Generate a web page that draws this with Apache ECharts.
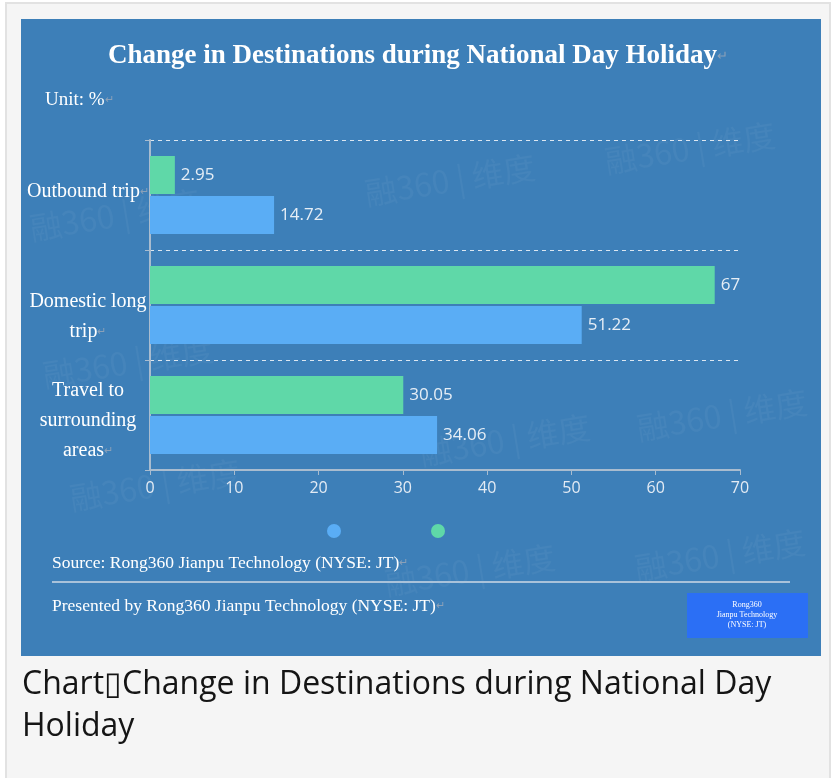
<!DOCTYPE html>
<html>
<head>
<meta charset="utf-8">
<script src="https://cdn.jsdelivr.net/npm/echarts@6/dist/echarts.min.js"></script>
<style>
html,body{margin:0;padding:0;background:#fff;}
#c{width:836px;height:778px;}
</style>
</head>
<body>
<div id="c"></div>
<script>
// ---- data ----
var categories = ['Travel to\nsurrounding\nareas', 'Domestic long\ntrip', 'Outbound trip'];
var blueValues = [34.06, 51.22, 14.72];
var greenValues = [30.05, 67, 2.95];
var xTicks = [0, 10, 20, 30, 40, 50, 60, 70];
var titleText = 'Change in Destinations during National Day Holiday';
var unitText = 'Unit: %';
var sourceText = 'Source: Rong360 Jianpu Technology (NYSE: JT)';
var presentedText = 'Presented by Rong360 Jianpu Technology (NYSE: JT)';
var logoText = 'Rong360\nJianpu Technology\n(NYSE: JT)';
var captionText = 'Chart\u25AFChange in Destinations during National Day\nHoliday';
var watermark = '融360 | 维度';

var SERIF = '"Liberation Serif","Times New Roman",serif';
var SANS = '"Open Sans","Noto Sans",sans-serif';
var MARK = '#8aa0b8';
var RET = '\u21B5';

var chart = echarts.init(document.getElementById('c'), null, {renderer: 'canvas'});

var wmPos = [[690,148],[115,215],[450,180],[128,362],[722,415],[505,440],[155,485],[720,555],[470,570]];
var wmGraphics = wmPos.map(function (p) {
  return {
    type: 'text', x: p[0], y: p[1], rotation: 0.16, z: -50,
    style: {text: watermark, fill: 'rgba(255,255,255,0.045)', font: '32px "Noto Sans CJK SC"', textAlign: 'center', textVerticalAlign: 'middle'}
  };
});

function markedText(x, y, txt, font, markSize) {
  return {type: 'text', x: x, y: y, z: 10,
    style: {text: '{t|' + txt + '}{m|' + RET + '}', textVerticalAlign: 'middle', textAlign: 'left',
      rich: {t: {fill: '#ffffff', font: font}, m: {fill: MARK, fontSize: markSize, fontFamily: SANS}}}};
}

// vertical nudges of the axis labels (spacer line: 'top' or 'bottom' + rich style key)
var labelNudge = [['top', 'h12'], ['top', 'h24'], ['bottom', 'h6']];

var option = {
  backgroundColor: '#ffffff',
  animation: false,
  graphic: [
    {type: 'rect', z: -100, shape: {x: 6, y: 3, width: 824, height: 780}, style: {fill: '#f5f5f5', stroke: '#e2e2e2', lineWidth: 2}},
    {type: 'rect', z: -90, shape: {x: 21, y: 19, width: 800, height: 637}, style: {fill: '#3d7fb8'}}
  ].concat(wmGraphics).concat([
    {type: 'text', x: 418, y: 56, z: 10,
      style: {text: '{t|' + titleText + '}{m|' + RET + '}', textAlign: 'center', textVerticalAlign: 'middle',
        rich: {t: {fill: '#ffffff', font: 'bold 27px ' + SERIF}, m: {fill: MARK, fontSize: 13, fontFamily: SANS}}}},
    markedText(45, 100, unitText, '19px ' + SERIF, 11),
    markedText(52, 563, sourceText, '17.5px ' + SERIF, 11),
    {type: 'line', z: 10, shape: {x1: 52, y1: 582, x2: 790, y2: 582}, style: {stroke: '#a9c2da', lineWidth: 2}},
    markedText(52, 606, presentedText, '17.5px ' + SERIF, 11),
    {type: 'rect', z: 10, shape: {x: 687, y: 593, width: 121, height: 45}, style: {fill: '#2b6ff5'}},
    {type: 'text', x: 747, y: 615, z: 11,
      style: {text: logoText, fill: '#ffffff', font: '8px ' + SERIF, lineHeight: 10, textAlign: 'center', textVerticalAlign: 'middle'}},
    {type: 'text', x: 22, y: 706, z: 10,
      style: {text: captionText, fill: '#151515', font: '32px ' + SANS, lineHeight: 42, textAlign: 'left', textVerticalAlign: 'middle'}}
  ]),
  legend: {
    left: 322, top: 519,
    icon: 'circle', itemWidth: 14, itemHeight: 14, itemGap: 90,
    formatter: function () { return ''; },
    data: ['blue', 'green']
  },
  grid: {left: 150, right: 96, top: 140, bottom: 308, containLabel: false, outerBoundsMode: 'none'},
  xAxis: {
    type: 'value', min: 0, max: 70, interval: 10,
    axisLine: {show: true, lineStyle: {color: '#a9bccf', width: 2}},
    axisTick: {show: true, length: 5, lineStyle: {color: '#a9bccf'}},
    axisLabel: {color: '#e3ebf4', fontSize: 16, fontFamily: SANS, margin: 10,
      formatter: function (v) { return xTicks.indexOf(v) >= 0 ? String(v) : ''; }},
    splitLine: {show: false}
  },
  yAxis: {
    type: 'category', data: categories,
    axisLine: {show: true, lineStyle: {color: '#a9bccf', width: 2}},
    axisTick: {show: true, length: 5, lineStyle: {color: '#a9bccf'}},
    splitLine: {show: true, lineStyle: {color: '#dde7f1', type: [4, 4], width: 1}},
    axisLabel: {
      color: '#ffffff', fontSize: 20, fontFamily: SERIF, lineHeight: 30, align: 'center', margin: 62,
      formatter: function (v, i) {
        var s = v + '{m|' + RET + '}';
        var n = labelNudge[i];
        if (!n) return s;
        var sp = '{' + n[1] + '|\u200b}';
        return n[0] === 'top' ? sp + '\n' + s : s + '\n' + sp;
      },
      rich: {
        m: {color: MARK, fontSize: 11, fontFamily: SANS},
        h6: {fontSize: 4, lineHeight: 6},
        h12: {fontSize: 4, lineHeight: 12},
        h24: {fontSize: 4, lineHeight: 24}
      }
    }
  },
  series: [
    {name: 'green', type: 'bar', data: greenValues, barWidth: 38, barGap: '5%',
      itemStyle: {color: '#5fd8a8'},
      label: {show: true, position: 'right', distance: 6, color: '#e6eef6', fontSize: 17, fontFamily: SANS}},
    {name: 'blue', type: 'bar', data: blueValues, barWidth: 38, barGap: '5%',
      itemStyle: {color: '#5aadf5'},
      label: {show: true, position: 'right', distance: 6, color: '#e6eef6', fontSize: 17, fontFamily: SANS}}
  ]
};
chart.setOption(option);
</script>
</body>
</html>
